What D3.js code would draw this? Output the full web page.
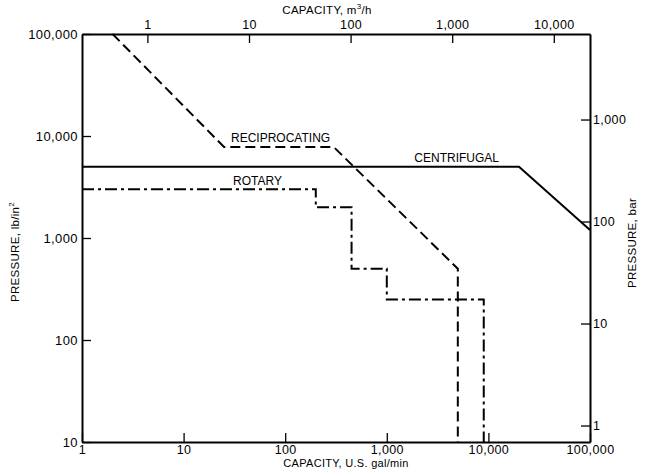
<!DOCTYPE html>
<html><head><meta charset="utf-8">
<script src="https://cdn.jsdelivr.net/npm/d3@7"></script>
<style>
body{margin:0;background:#fff;}
svg{display:block;font-family:"Liberation Sans",Arial,sans-serif;}
</style></head>
<body><svg id="c" width="654" height="470"></svg>
<script>
// Data (capacity in U.S. gal/min, pressure in lb/in^2)
const reciprocating = [[2,100000],[25,7800],[300,7800],[5000,500],[5000,10]];
const centrifugal   = [[1,5000],[20000,5000],[100000,1200]];
const rotary        = [[1,3000],[200,3000],[200,2000],[450,2000],[450,500],[1000,500],[1000,250],[9000,250],[9000,10]];
const gpmTicks = [1,10,100,1000,10000,100000];
const psiTicks = [10,100,1000,10000,100000];
const m3hTicks = [1,10,100,1000,10000];
const barTicks = [1,10,100,1000];
const seriesLabels = [
  {name:"RECIPROCATING", gpm:25, psi:7800},
  {name:"CENTRIFUGAL", gpm:20000, psi:5000},
  {name:"ROTARY", gpm:25, psi:3000}
];
const GPM_PER_M3H = 4.4029, PSI_PER_BAR = 14.5038;

const svg = d3.select("#c");
const L=82, R=590, T=34, B=442;
const x = d3.scaleLog().domain([1,100000]).range([L,R]);
const y = d3.scaleLog().domain([10,100000]).range([B,T]);
const xTop = d3.scaleLog().domain([1/GPM_PER_M3H,100000/GPM_PER_M3H]).range([L,R]);
const yRight = d3.scaleLog().domain([10/PSI_PER_BAR,100000/PSI_PER_BAR]).range([B,T]);
const fmt = d3.format(",");

function styleAxis(size){
  return function(g){
    g.select(".domain").attr("stroke","#000").attr("stroke-width",2);
    g.selectAll(".tick line").attr("stroke","#000").attr("stroke-width",1.3);
    g.selectAll(".tick text").attr("fill","#000").attr("font-size",size)
      .attr("font-family","'Liberation Sans',Arial,sans-serif").style("letter-spacing","0.4px");
  };
}
svg.append("g").attr("transform",`translate(0,${B})`)
  .call(d3.axisBottom(x).tickValues(gpmTicks).tickFormat(fmt).tickSize(-9).tickSizeOuter(0).tickPadding(3)).call(styleAxis("12.5px"));
svg.append("g").attr("transform",`translate(${L},0)`)
  .call(d3.axisLeft(y).tickValues(psiTicks).tickFormat(fmt).tickSize(-9).tickSizeOuter(0).tickPadding(4)).call(styleAxis("13px"));
svg.append("g").attr("transform",`translate(0,${T})`)
  .call(d3.axisTop(xTop).tickValues(m3hTicks).tickFormat(fmt).tickSize(-9).tickSizeOuter(0).tickPadding(5)).call(styleAxis("12.5px"));
svg.append("g").attr("transform",`translate(${R},0)`)
  .call(d3.axisRight(yRight).tickValues(barTicks).tickFormat(fmt).tickSize(-9).tickSizeOuter(0).tickPadding(3)).call(styleAxis("12.5px"));

const line = d3.line().x(d=>x(d[0])).y(d=>y(d[1]));
svg.append("path").datum(centrifugal).attr("d",line).attr("fill","none")
  .attr("stroke","#000").attr("stroke-width",2);
svg.append("path").datum(reciprocating).attr("d",line).attr("fill","none")
  .attr("stroke","#000").attr("stroke-width",2).attr("stroke-dasharray","10,5");
svg.append("path").datum(rotary).attr("d",line).attr("fill","none")
  .attr("stroke","#000").attr("stroke-width",2).attr("stroke-dasharray","12,4,3,4");

// series labels
const lab = svg.append("g").attr("font-size","12px").attr("fill","#000");
lab.append("text").attr("x",x(seriesLabels[0].gpm)+7).attr("y",y(seriesLabels[0].psi)-5).text(seriesLabels[0].name);
lab.append("text").attr("x",x(seriesLabels[1].gpm)-20).attr("y",y(seriesLabels[1].psi)-5).attr("text-anchor","end").text(seriesLabels[1].name);
lab.append("text").attr("x",x(seriesLabels[2].gpm)+9).attr("y",y(seriesLabels[2].psi)-4).text(seriesLabels[2].name);

// axis titles
const tf = svg.append("g").attr("font-size","11.5px").attr("fill","#000").style("letter-spacing","0.3px");
const t1 = tf.append("text").attr("x",327).attr("y",14).attr("text-anchor","middle");
t1.append("tspan").text("CAPACITY,  m");
t1.append("tspan").attr("font-size","8px").attr("dy",-5).text("3");
t1.append("tspan").attr("dy",5).text("/h");
tf.append("text").attr("x",346).attr("y",467).attr("font-size","11px").attr("text-anchor","middle").text("CAPACITY, U.S. gal/min");
const t3 = tf.append("text").attr("transform","translate(19,252) rotate(-90)").attr("text-anchor","middle");
t3.append("tspan").text("PRESSURE,  lb/in");
t3.append("tspan").attr("font-size","8px").attr("dy",-5).text("2");
tf.append("text").attr("transform","translate(636,243) rotate(-90)").attr("text-anchor","middle").text("PRESSURE,  bar");
</script></body></html>
